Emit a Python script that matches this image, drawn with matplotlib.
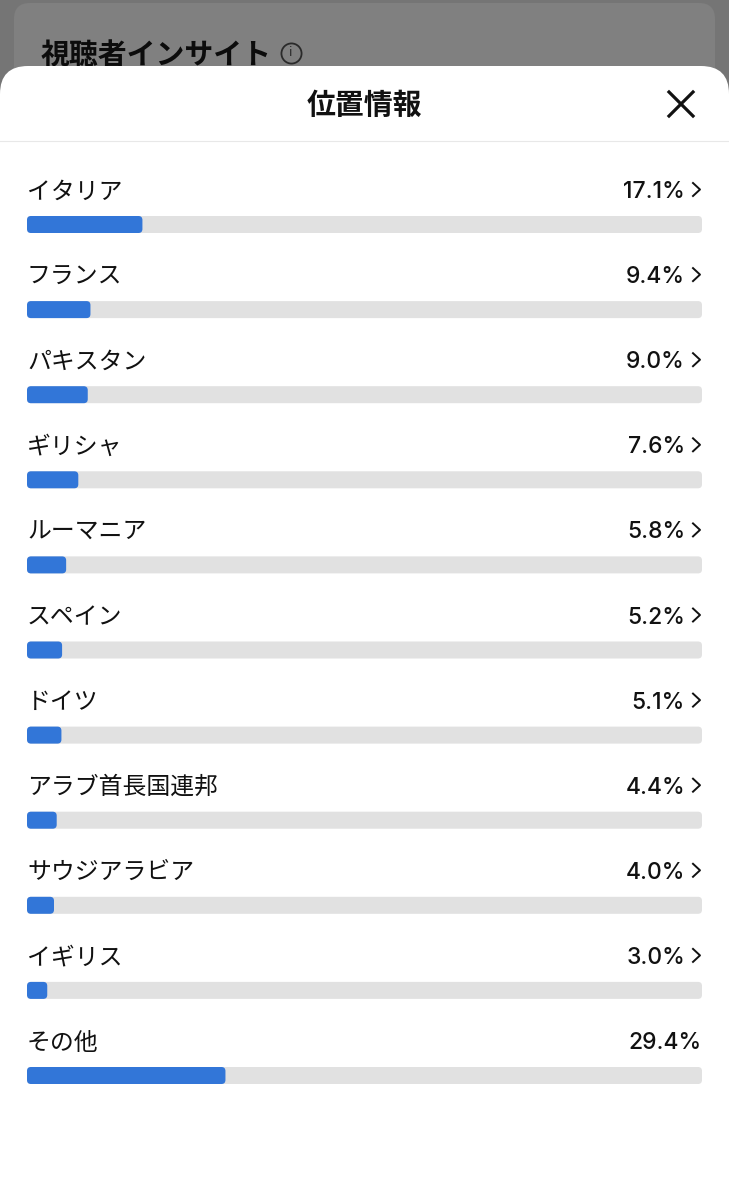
import matplotlib
matplotlib.use('Agg')
import matplotlib.pyplot as plt
from matplotlib.patches import FancyBboxPatch, Rectangle

plt.rcParams['font.family'] = ['Noto Sans CJK JP', 'DejaVu Sans']

countries = ['イタリア', 'フランス', 'パキスタン', 'ギリシャ', 'ルーマニア', 'スペイン', 'ドイツ',
             'アラブ首長国連邦', 'サウジアラビア', 'イギリス', 'その他']
shares = [17.1, 9.4, 9.0, 7.6, 5.8, 5.2, 5.1, 4.4, 4.0, 3.0, 29.4]
title = '位置情報'
behind_title = '視聴者インサイト'

W, H = 729, 1200
BAR_LEFT, BAR_RIGHT = 27, 702
BAR_H = 17
FIRST_BAR = 224.5
STEP = 85.1


def rounded(ax, x, y, w, h, r, color, z):
    p = FancyBboxPatch((x + r, y + r), w - 2 * r, h - 2 * r,
                       boxstyle='round,pad=%f,rounding_size=%f' % (r, r),
                       fc=color, ec='none', zorder=z)
    ax.add_patch(p)


fig = plt.figure(figsize=(W / 100, H / 100), dpi=100)
ax = fig.add_axes([0, 0, 1, 1])
ax.set_xlim(0, W)
ax.set_ylim(H, 0)
ax.axis('off')

# dimmed page behind the sheet
ax.add_patch(Rectangle((0, 0), W, H, fc='#757575', ec='none', zorder=0))
rounded(ax, 14, 3, 701, 200, 16, '#808080', 1)
ax.text(41, 55, behind_title, fontsize=20.8, fontweight='bold', color='#0c0c0c',
        va='center', ha='left', zorder=2)
ax.plot(291, 53, 'o', ms=14.5, mfc='none', mec='#2a2a2a', mew=1.3, zorder=2)
ax.text(291, 53, 'i', fontsize=9, color='#2a2a2a', ha='center', va='center',
        family='DejaVu Sans', zorder=2)

# white sheet
rounded(ax, 0, 66, W, H + 60, 28, 'white', 3)
ax.text(364, 105, title, fontsize=20.8, fontweight='bold', color='#111111',
        ha='center', va='center', zorder=4)
ax.plot([669, 693], [92, 116], color='#111111', lw=2.3, zorder=4)
ax.plot([669, 693], [116, 92], color='#111111', lw=2.3, zorder=4)
ax.plot([0, W], [140.5, 140.5], color='#e8e8e8', lw=0.8, zorder=4)

full = BAR_RIGHT - BAR_LEFT
for i, (name, val) in enumerate(zip(countries, shares)):
    y = FIRST_BAR + STEP * i
    ax.text(27, y - 32.5, name, fontsize=17.2, color='#111111', ha='left', va='center', zorder=4)
    last = i == len(countries) - 1
    ax.text(702 if last else 685, y - 32.5, '%.1f%%' % val, fontsize=16.5, color='#111111',
            ha='right', va='center', family=['Inter'], fontweight='medium', zorder=4)
    if not last:
        ax.plot([693, 700, 693], [y - 41.5, y - 35, y - 28.5], color='#111111', lw=1.4, zorder=4)
    rounded(ax, BAR_LEFT, y - BAR_H / 2, full, BAR_H, 4, '#e1e1e1', 4)
    rounded(ax, BAR_LEFT, y - BAR_H / 2, full * val / 100, BAR_H, 4, '#3276d8', 5)

fig.savefig('out.png', dpi=100)
